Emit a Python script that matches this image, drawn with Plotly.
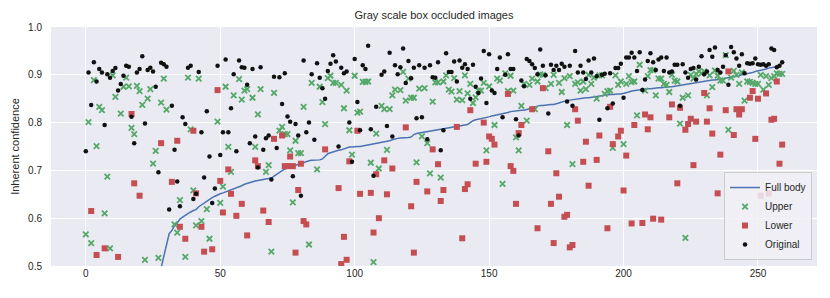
import plotly.graph_objects as go

N = None
idx = list(range(260))

full_body = [
    0.300, 0.330, 0.350, 0.360, 0.370, 0.380, 0.390, 0.400, 0.410, 0.415,
    0.420, 0.425, 0.430, 0.435, 0.440, 0.445, 0.450, 0.455, 0.460, 0.465,
    0.470, 0.473, 0.476, 0.479, 0.482, 0.485, 0.488, 0.492, 0.496, 0.520,
    0.545, 0.568, 0.574, 0.585, 0.590, 0.598, 0.602, 0.606, 0.610, 0.613,
    0.616, 0.618, 0.624, 0.628, 0.632, 0.636, 0.639, 0.643, 0.646, 0.649,
    0.651, 0.653, 0.655, 0.657, 0.659, 0.661, 0.663, 0.665, 0.668, 0.671,
    0.673, 0.675, 0.677, 0.678, 0.679, 0.680, 0.681, 0.682, 0.683, 0.684,
    0.688, 0.692, 0.696, 0.700, 0.703, 0.705, 0.707, 0.709, 0.711, 0.713,
    0.714, 0.716, 0.718, 0.720, 0.721, 0.721, 0.722, 0.722, 0.724, 0.730,
    0.735, 0.737, 0.739, 0.741, 0.742, 0.743, 0.745, 0.747, 0.749, 0.749,
    0.750, 0.750, 0.750, 0.751, 0.752, 0.753, 0.754, 0.755, 0.756, 0.757,
    0.758, 0.759, 0.760, 0.762, 0.764, 0.766, 0.767, 0.768, 0.768, 0.769,
    0.769, 0.770, 0.775, 0.777, 0.778, 0.779, 0.780, 0.781, 0.782, 0.783,
    0.784, 0.785, 0.785, 0.786, 0.787, 0.788, 0.789, 0.790, 0.791, 0.792,
    0.793, 0.794, 0.796, 0.800, 0.804, 0.806, 0.807, 0.808, 0.809, 0.810,
    0.812, 0.814, 0.815, 0.816, 0.818, 0.819, 0.820, 0.821, 0.823, 0.824,
    0.825, 0.825, 0.826, 0.826, 0.827, 0.829, 0.831, 0.833, 0.835, 0.836,
    0.836, 0.837, 0.837, 0.838, 0.838, 0.839, 0.841, 0.843, 0.845, 0.846,
    0.847, 0.848, 0.849, 0.850, 0.850, 0.851, 0.852, 0.852, 0.853, 0.854,
    0.855, 0.856, 0.857, 0.858, 0.858, 0.859, 0.859, 0.860, 0.860, 0.860,
    0.861, 0.862, 0.864, 0.866, 0.867, 0.868, 0.869, 0.870, 0.870, 0.871,
    0.871, 0.872, 0.872, 0.873, 0.873, 0.874, 0.874, 0.875, 0.875, 0.876,
    0.876, 0.877, 0.878, 0.880, 0.881, 0.882, 0.883, 0.884, 0.885, 0.886,
    0.886, 0.887, 0.888, 0.889, 0.889, 0.890, 0.891, 0.891, 0.892, 0.894,
    0.895, 0.896, 0.897, 0.898, 0.900, 0.901, 0.902, 0.904, 0.905, 0.907,
    0.908, 0.909, 0.910, 0.912, 0.914, 0.915, 0.916, 0.917, 0.918, 0.925,
]

upper = [
    0.566, 0.801, 0.548, 0.889, 0.751, 0.833, 0.826, 0.610, 0.687, 0.537,
    0.899, 0.854, N, 0.819, 0.875, 0.894, 0.876, 0.789, 0.776, 0.877,
    0.866, 0.837, 0.513, 0.850, 0.870, 0.714, 0.741, 0.517, 0.842, 0.892,
    0.827, N, N, 0.587, 0.570, 0.638, N, 0.519, 0.894, 0.786,
    0.658, 0.585, 0.892, 0.594, N, 0.619, 0.557, N, N, 0.802,
    0.632, 0.666, 0.875, 0.749, 0.697, 0.857, N, 0.891, 0.848, 0.867,
    0.870, N, 0.852, 0.749, 0.817, 0.870, N, 0.697, 0.711, 0.530,
    0.862, N, 0.783, 0.791, 0.776, 0.776, 0.742, 0.633, 0.762, 0.736,
    0.736, 0.833, N, 0.545, 0.883, N, 0.702, 0.875, 0.843, 0.797,
    0.893, 0.898, 0.883, 0.883, N, 0.879, 0.830, 0.867, 0.784, 0.733,
    0.898, 0.821, 0.823, 0.885, 0.885, 0.886, 0.716, 0.508, 0.777, 0.704,
    0.835, 0.828, 0.743, 0.828, 0.857, 0.869, N, 0.868, 0.906, 0.846,
    0.892, 0.852, 0.852, 0.717, 0.871, 0.771, 0.872, 0.757, 0.694, 0.844,
    0.884, 0.884, 0.685, 0.886, 0.899, 0.869, 0.865, 0.893, 0.848, 0.866,
    0.847, 0.899, 0.861, 0.881, 0.841, 0.853, 0.867, 0.867, 0.883, 0.742,
    0.876, N, 0.795, 0.892, 0.888, 0.672, 0.903, 0.866, 0.898, 0.867,
    0.769, 0.742, 0.835, 0.881, 0.804, 0.879, 0.892, 0.828, 0.886, 0.901,
    0.900, 0.872, N, 0.881, 0.900, N, 0.883, 0.864, 0.893, 0.795,
    0.897, 0.713, 0.881, 0.884, 0.867, 0.886, 0.870, 0.900, 0.881, 0.894,
    0.850, 0.899, 0.899, 0.860, 0.866, 0.867, 0.747, 0.899, 0.879, 0.886,
    0.755, 0.881, 0.897, 0.885, 0.886, 0.815, 0.921, N, 0.867, 0.897,
    0.910, 0.910, 0.857, 0.892, 0.892, 0.881, 0.879, 0.864, 0.900, 0.888,
    0.886, 0.798, 0.852, 0.559, 0.857, 0.900, 0.892, 0.902, 0.907, 0.903,
    0.907, 0.857, 0.899, 0.874, 0.909, 0.898, 0.888, 0.888, 0.941, 0.785,
    0.894, 0.908, 0.900, 0.881, 0.905, 0.846, 0.886, 0.885, 0.883, 0.881,
    0.881, 0.900, 0.869, 0.897, 0.879, 0.893, 0.897, 0.903, 0.902, 0.902,
]

lower = [
    N, N, 0.615, N, 0.523, N, N, 0.537, N, N,
    N, N, 0.519, N, N, N, N, 0.818, 0.673, N,
    0.647, N, N, N, N, N, N, N, 0.757, N,
    N, N, 0.676, N, 0.762, 0.582, N, 0.557, N, N,
    0.783, 0.652, N, 0.582, 0.530, N, N, 0.535, N, 0.868,
    0.678, 0.612, N, 0.702, 0.651, N, 0.605, N, 0.630, N,
    0.564, N, N, 0.721, 0.709, N, 0.616, N, 0.592, N,
    0.766, N, N, 0.773, 0.709, 0.709, 0.729, 0.709, 0.528, 0.659,
    0.714, 0.594, 0.587, N, N, N, N, N, N, 0.744,
    N, N, N, N, 0.663, 0.504, 0.561, 0.513, 0.719, N,
    N, 0.783, 0.651, N, N, N, 0.653, 0.570, 0.692, 0.600,
    N, 0.721, 0.650, N, 0.704, N, N, N, N, 0.790,
    N, 0.625, 0.528, 0.676, N, N, N, 0.656, N, 0.744,
    N, 0.713, 0.636, 0.659, N, N, N, N, 0.791, N,
    0.558, 0.661, 0.671, 0.826, N, 0.714, N, N, 0.800, 0.718,
    0.771, 0.766, 0.754, N, N, N, N, 0.860, 0.709, 0.699,
    0.630, 0.778, 0.795, N, N, N, 0.828, N, 0.579, N,
    0.872, N, 0.740, 0.630, 0.548, 0.694, 0.645, N, 0.603, 0.607,
    0.539, 0.544, 0.828, 0.804, N, 0.718, 0.760, 0.668, N, N,
    0.722, 0.773, N, N, 0.579, 0.833, 0.755, N, 0.771, 0.783,
    0.658, 0.731, N, 0.589, 0.795, N, N, 0.590, 0.817, 0.786,
    0.811, 0.599, N, N, 0.597, N, N, 0.811, 0.838, N,
    0.673, 0.831, N, 0.785, 0.797, 0.808, 0.711, 0.802, N, N,
    0.862, 0.802, 0.830, 0.777, N, 0.652, 0.733, N, 0.826, 0.907,
    N, 0.774, 0.828, 0.817, 0.828, N, N, 0.852, 0.866, 0.766,
    0.850, 0.647, N, 0.861, 0.652, 0.806, 0.808, 0.886, 0.714, 0.754,
]

original = [
    0.740, 0.905, 0.837, 0.926, 0.886, 0.912, 0.905, 0.795, 0.901, 0.894,
    0.908, 0.914, 0.867, 0.881, 0.898, 0.919, 0.917, 0.812, 0.757, 0.905,
    0.912, 0.939, 0.798, 0.910, 0.915, 0.907, 0.875, 0.696, 0.925, 0.922,
    0.917, 0.618, 0.835, 0.743, 0.677, 0.625, 0.811, 0.797, 0.915, 0.919,
    0.640, 0.651, 0.906, 0.780, 0.685, 0.824, 0.729, 0.632, 0.662, 0.919,
    0.732, 0.780, 0.932, 0.780, 0.830, 0.901, 0.740, 0.930, 0.916, 0.915,
    0.879, 0.757, 0.912, 0.771, 0.706, 0.916, 0.743, 0.767, 0.773, 0.681,
    0.896, 0.747, 0.895, 0.839, 0.903, 0.813, 0.802, 0.688, 0.797, 0.773,
    0.647, 0.930, 0.780, 0.800, 0.901, 0.764, 0.924, 0.894, 0.872, 0.850,
    0.908, 0.923, 0.941, 0.928, 0.750, 0.915, 0.903, 0.907, 0.800, 0.718,
    0.933, 0.843, 0.784, 0.920, 0.912, 0.961, 0.786, 0.689, 0.833, N,
    0.900, 0.907, 0.793, 0.946, 0.771, 0.920, 0.901, 0.916, 0.955, 0.883,
    0.929, 0.893, 0.915, 0.809, 0.920, 0.811, 0.915, 0.765, 0.920, 0.895,
    0.894, 0.926, 0.742, 0.784, 0.945, 0.906, 0.906, 0.928, 0.886, 0.930,
    0.915, 0.922, 0.912, 0.850, 0.921, 0.875, 0.862, 0.892, 0.950, 0.841,
    0.943, 0.867, 0.862, 0.912, 0.936, 0.811, 0.900, 0.943, 0.912, 0.912,
    0.807, 0.773, 0.888, 0.876, 0.933, 0.929, 0.922, 0.914, 0.901, 0.953,
    0.919, 0.899, 0.819, 0.921, 0.910, 0.919, 0.910, 0.923, 0.917, 0.844,
    0.919, 0.835, 0.950, 0.905, 0.919, 0.905, 0.891, 0.930, 0.905, 0.934,
    0.897, 0.806, 0.900, 0.902, 0.830, 0.903, 0.840, 0.914, 0.914, 0.923,
    0.852, 0.936, 0.936, 0.946, 0.936, 0.908, 0.947, 0.868, 0.890, 0.929,
    0.945, 0.926, 0.910, 0.932, 0.936, 0.908, 0.936, 0.905, 0.907, 0.921,
    0.921, 0.835, 0.922, 0.905, 0.894, 0.912, 0.914, 0.890, 0.917, 0.939,
    0.901, 0.907, 0.952, 0.938, 0.957, 0.910, 0.905, 0.917, 0.941, 0.879,
    0.958, 0.947, 0.934, 0.919, 0.943, 0.903, 0.924, 0.923, 0.924, 0.934,
    0.922, 0.921, 0.922, 0.919, 0.922, 0.955, 0.952, 0.916, 0.919, 0.926,
]

x_ticks = [0, 50, 100, 150, 200, 250]
y_ticks = [0.5, 0.6, 0.7, 0.8, 0.9, 1.0]
y_tick_labels = ["0.5", "0.6", "0.7", "0.8", "0.9", "1.0"]

FONT = "Liberation Sans, Arial, sans-serif"

fig = go.Figure()
fig.add_trace(go.Scatter(
    x=idx, y=full_body, mode="lines", name="Full body",
    line=dict(color="#4C72B0", width=1.5),
))
fig.add_trace(go.Scatter(
    x=idx, y=upper, mode="markers", name="Upper",
    marker=dict(symbol="x-thin", size=5.5, color="#55A868",
                line=dict(color="#55A868", width=1.8)),
))
fig.add_trace(go.Scatter(
    x=idx, y=lower, mode="markers", name="Lower",
    marker=dict(symbol="square", size=6, color="#C44E52", line=dict(width=0)),
))
fig.add_trace(go.Scatter(
    x=idx, y=original, mode="markers", name="Original",
    marker=dict(symbol="circle", size=4.5, color="#111111", line=dict(width=0)),
))

fig.update_layout(
    width=830, height=298,
    margin=dict(l=51, r=13, t=27, b=32, autoexpand=False),
    paper_bgcolor="white",
    plot_bgcolor="#EAEAF2",
    font=dict(family=FONT, size=10, color="#262626"),
    title=dict(text="Gray scale box occluded images", x=0.5, xanchor="center",
               xref="paper",
               y=1 - 15 / 298, yanchor="middle",
               font=dict(family=FONT, size=11, color="#262626")),
    showlegend=True,
    legend=dict(
        x=0.9935, y=0.025, xanchor="right", yanchor="bottom",
        bgcolor="rgba(240,240,246,0.85)", bordercolor="#CCCCCC", borderwidth=1,
        font=dict(family=FONT, size=10, color="#262626"),
        tracegroupgap=0, itemwidth=30,
    ),
    xaxis=dict(
        range=[-12.95, 271.95], tickmode="array", tickvals=x_ticks,
        showgrid=True, gridcolor="white", gridwidth=1, zeroline=False,
        showline=False, ticks="", automargin=False,
        tickfont=dict(size=10, color="#262626"),
    ),
    yaxis=dict(
        range=[0.5, 1.0], tickmode="array", tickvals=y_ticks, ticktext=y_tick_labels,
        showgrid=True, gridcolor="white", gridwidth=1, zeroline=False,
        showline=False, ticks="", ticklabelstandoff=8, automargin=False,
        tickfont=dict(size=10, color="#262626"),
        title=dict(text="Inherent confidence", font=dict(size=11, color="#262626"),
                   standoff=6),
    ),
)

fig.write_html("out.html",
               config={"displayModeBar": False},
               post_script="document.body.style.margin='0';document.body.style.overflow='hidden';")
